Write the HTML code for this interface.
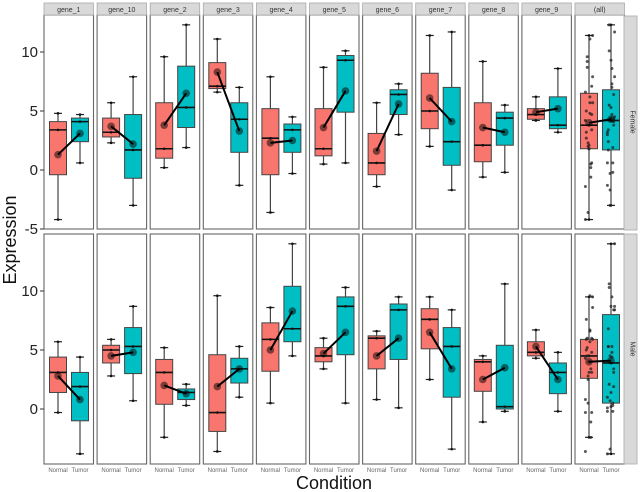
<!DOCTYPE html>
<html><head><meta charset="utf-8"><style>
body{margin:0;background:#fff;}
svg{display:block;font-family:"Liberation Sans",sans-serif;}
</style></head><body>
<svg id="chart" width="640" height="492"></svg>
<script>
// Data: per row (Female, Male), per gene: [lo, q1, med, q3, hi, mean] for Normal and Tumor
const genes = ["gene_1","gene_10","gene_2","gene_3","gene_4","gene_5","gene_6","gene_7","gene_8","gene_9","(all)"];
const rows = ["Female","Male"];
const femaleNormal = [[-4.2,-0.4,3.4,4.1,4.8,1.3],[2.3,2.8,3.2,4.4,5.7,3.7],[0.2,1.0,1.8,5.7,9.6,3.8],[6.6,6.9,7.1,9.1,11.1,8.3],[-3.6,-0.4,2.7,5.2,7.9,2.3],[0.5,1.2,1.8,5.2,8.7,3.6],[-1.4,-0.4,0.6,3.1,5.7,1.6],[2.0,3.5,5.0,8.2,11.4,6.1],[-0.6,0.7,2.1,5.7,9.2,3.6],[4.2,4.3,4.7,5.2,6.2,4.9],[-4.2,1.8,3.8,6.5,11.4,4.0]];
const femaleTumor = [[0.6,2.4,4.1,4.4,4.7,3.1],[-3.0,-0.7,1.7,4.7,7.9,2.2],[1.9,3.6,5.3,8.8,12.3,6.5],[-1.3,1.5,4.3,5.7,7.0,3.3],[-0.3,1.5,3.4,3.9,4.5,2.5],[0.6,4.9,9.3,9.7,10.1,6.7],[3.0,4.7,6.4,6.8,7.3,5.6],[-1.7,0.4,2.4,7.0,11.7,4.1],[-0.2,2.1,4.4,4.9,5.5,3.2],[3.2,3.5,3.8,6.2,8.6,5.2],[-3.0,1.7,4.2,6.8,12.3,4.3]];
const maleNormal = [[-0.3,1.4,3.1,4.4,5.7,2.8],[2.8,3.9,5.0,5.4,5.9,4.5],[-2.4,0.4,3.1,4.2,5.2,2.0],[-3.6,-1.9,-0.3,4.6,9.6,1.9],[0.5,3.2,5.9,7.3,8.6,5.0],[3.4,4.0,4.5,5.2,6.0,4.7],[0.8,3.4,6.0,6.2,6.6,4.5],[2.5,5.1,7.6,8.5,9.5,6.5],[-1.1,1.5,4.0,4.2,4.5,2.5],[4.3,4.5,4.8,5.7,6.7,5.3],[-2.4,2.6,4.5,5.9,9.5,4.0]];
const maleTumor = [[-3.8,-1.0,1.9,3.1,4.4,0.8],[0.7,3.0,5.3,6.9,8.7,4.8],[0.3,0.8,1.4,1.7,2.1,1.3],[1.0,2.2,3.4,4.3,5.3,3.4],[4.5,5.7,6.8,10.4,14.0,8.3],[0.5,4.6,8.7,9.5,10.3,6.5],[0.1,4.2,8.4,8.9,9.5,6.0],[-3.4,1.0,5.3,6.9,8.4,3.4],[-0.2,0.0,0.2,5.4,10.6,3.5],[-0.2,1.3,3.1,3.9,4.8,2.5],[-3.8,0.5,3.9,8.0,14.0,4.1]];
const yTicks = [-5,0,5,10];
const tickLabels = ["-5","0","5","10"];

const NS="http://www.w3.org/2000/svg";
const svg=document.getElementById('chart');
function mk(tag,attrs,parent){const e=document.createElementNS(NS,tag);for(const k in attrs)e.setAttribute(k,attrs[k]);(parent||svg).appendChild(e);return e;}
const rowZero=[170,409], unit=11.8;
const rowTop=[15,234], rowBot=[229,464];
function yScale(r,v){return rowZero[r]-v*unit;}
function xPanel(i){return 44+i*53.1;}
const PW=49.5, BW=17;
const data=[[femaleNormal,femaleTumor],[maleNormal,maleTumor]];
const fills=["#F8766D","#00BFC4"];

for(let r=0;r<2;r++){
  for(let i=0;i<genes.length;i++){
    const x0=xPanel(i);
    const panel=mk('rect',{x:x0,y:rowTop[r],width:PW,height:rowBot[r]-rowTop[r],fill:'#fff',stroke:'#666','stroke-width':1.1});
    
    
    const means=[];
    for(let c=0;c<2;c++){
      const s=data[r][c][i];
      const cx=x0+(c===0?14:36);
      const g=mk('g',{});
      
      
      mk('line',{x1:cx,x2:cx,y1:yScale(r,s[0]),y2:yScale(r,s[4]),stroke:'#444','stroke-width':1.2},g);
      mk('line',{x1:cx-4,x2:cx+4,y1:yScale(r,s[0]),y2:yScale(r,s[0]),stroke:'#222','stroke-width':1.2},g);
      mk('line',{x1:cx-4,x2:cx+4,y1:yScale(r,s[4]),y2:yScale(r,s[4]),stroke:'#222','stroke-width':1.2},g);
      mk('rect',{x:cx-BW/2,y:yScale(r,s[3]),width:BW,height:Math.max(1,yScale(r,s[1])-yScale(r,s[3])),fill:fills[c],stroke:'#444','stroke-width':1},g);
      mk('line',{x1:cx-BW/2,x2:cx+BW/2,y1:yScale(r,s[2]),y2:yScale(r,s[2]),stroke:'#111','stroke-width':1.6},g);
      [0,2,4].forEach(k=>mk('circle',{cx:cx,cy:yScale(r,s[k]),r:1.3,fill:'#111'},g));
      if(i===genes.length-1){
        const src=data[r][c];
        for(let j=0;j<src.length-1;j++){[0,2,4].forEach((k,q)=>{
          const jx=(((j*3+q)*7)%9-4)*0.9;
          mk('circle',{cx:cx+jx,cy:yScale(r,src[j][k]),r:1.5,fill:'#222','fill-opacity':0.75},g);
        });}
      }
      means.push([cx,yScale(r,s[5])]);
    }
    const ml=mk('line',{x1:means[0][0],y1:means[0][1],x2:means[1][0],y2:means[1][1],stroke:'#000','stroke-width':2});
    
    
    means.forEach(m=>mk('circle',{cx:m[0],cy:m[1],r:3.8,fill:'#000','fill-opacity':0.5}));
    if(r===0){
      const st=mk('rect',{x:x0,y:3,width:PW,height:12,fill:'#d9d9d9',stroke:'#aaa','stroke-width':0.8});
      
      
      const t=mk('text',{x:x0+PW/2,y:12,'font-size':7,'text-anchor':'middle',fill:'#333'});
      t.textContent=genes[i];
    } else {
      ['Normal','Tumor'].forEach((lab,c)=>{
        const t=mk('text',{x:x0+(c===0?14:36),y:472,'font-size':6,'text-anchor':'middle',fill:'#666'});
        
        
        t.textContent=lab;
      });
    }
  }
  const rs=mk('rect',{x:624,y:rowTop[r]+(r===0?1:0),width:13,height:rowBot[r]-rowTop[r],fill:'#d9d9d9',stroke:'#aaa','stroke-width':0.8});
  
  
  const cy=(rowTop[r]+rowBot[r])/2;
  const rt=mk('text',{x:630.5,y:cy,'font-size':7,'text-anchor':'middle',fill:'#333',transform:`rotate(90 630.5 ${cy})`});
  rt.textContent=rows[r];
  yTicks.forEach((v,k)=>{
    const y=yScale(r,v);
    if(y<rowTop[r]-2||y>rowBot[r]+2)return;
    mk('line',{x1:40,x2:44,y1:y,y2:y,stroke:'#333','stroke-width':1});
    const t=mk('text',{x:38,y:y+5,'font-size':15,'text-anchor':'end',fill:'#222'});
    
    
    t.textContent=tickLabels[k];
  });
}
const yt=mk('text',{x:16,y:240,'font-size':18,'text-anchor':'middle',fill:'#111',transform:'rotate(-90 16 240)'});


yt.textContent='Expression';
const xt=mk('text',{x:334,y:489,'font-size':18,'text-anchor':'middle',fill:'#111'});


xt.textContent='Condition';
</script>
</body></html>
